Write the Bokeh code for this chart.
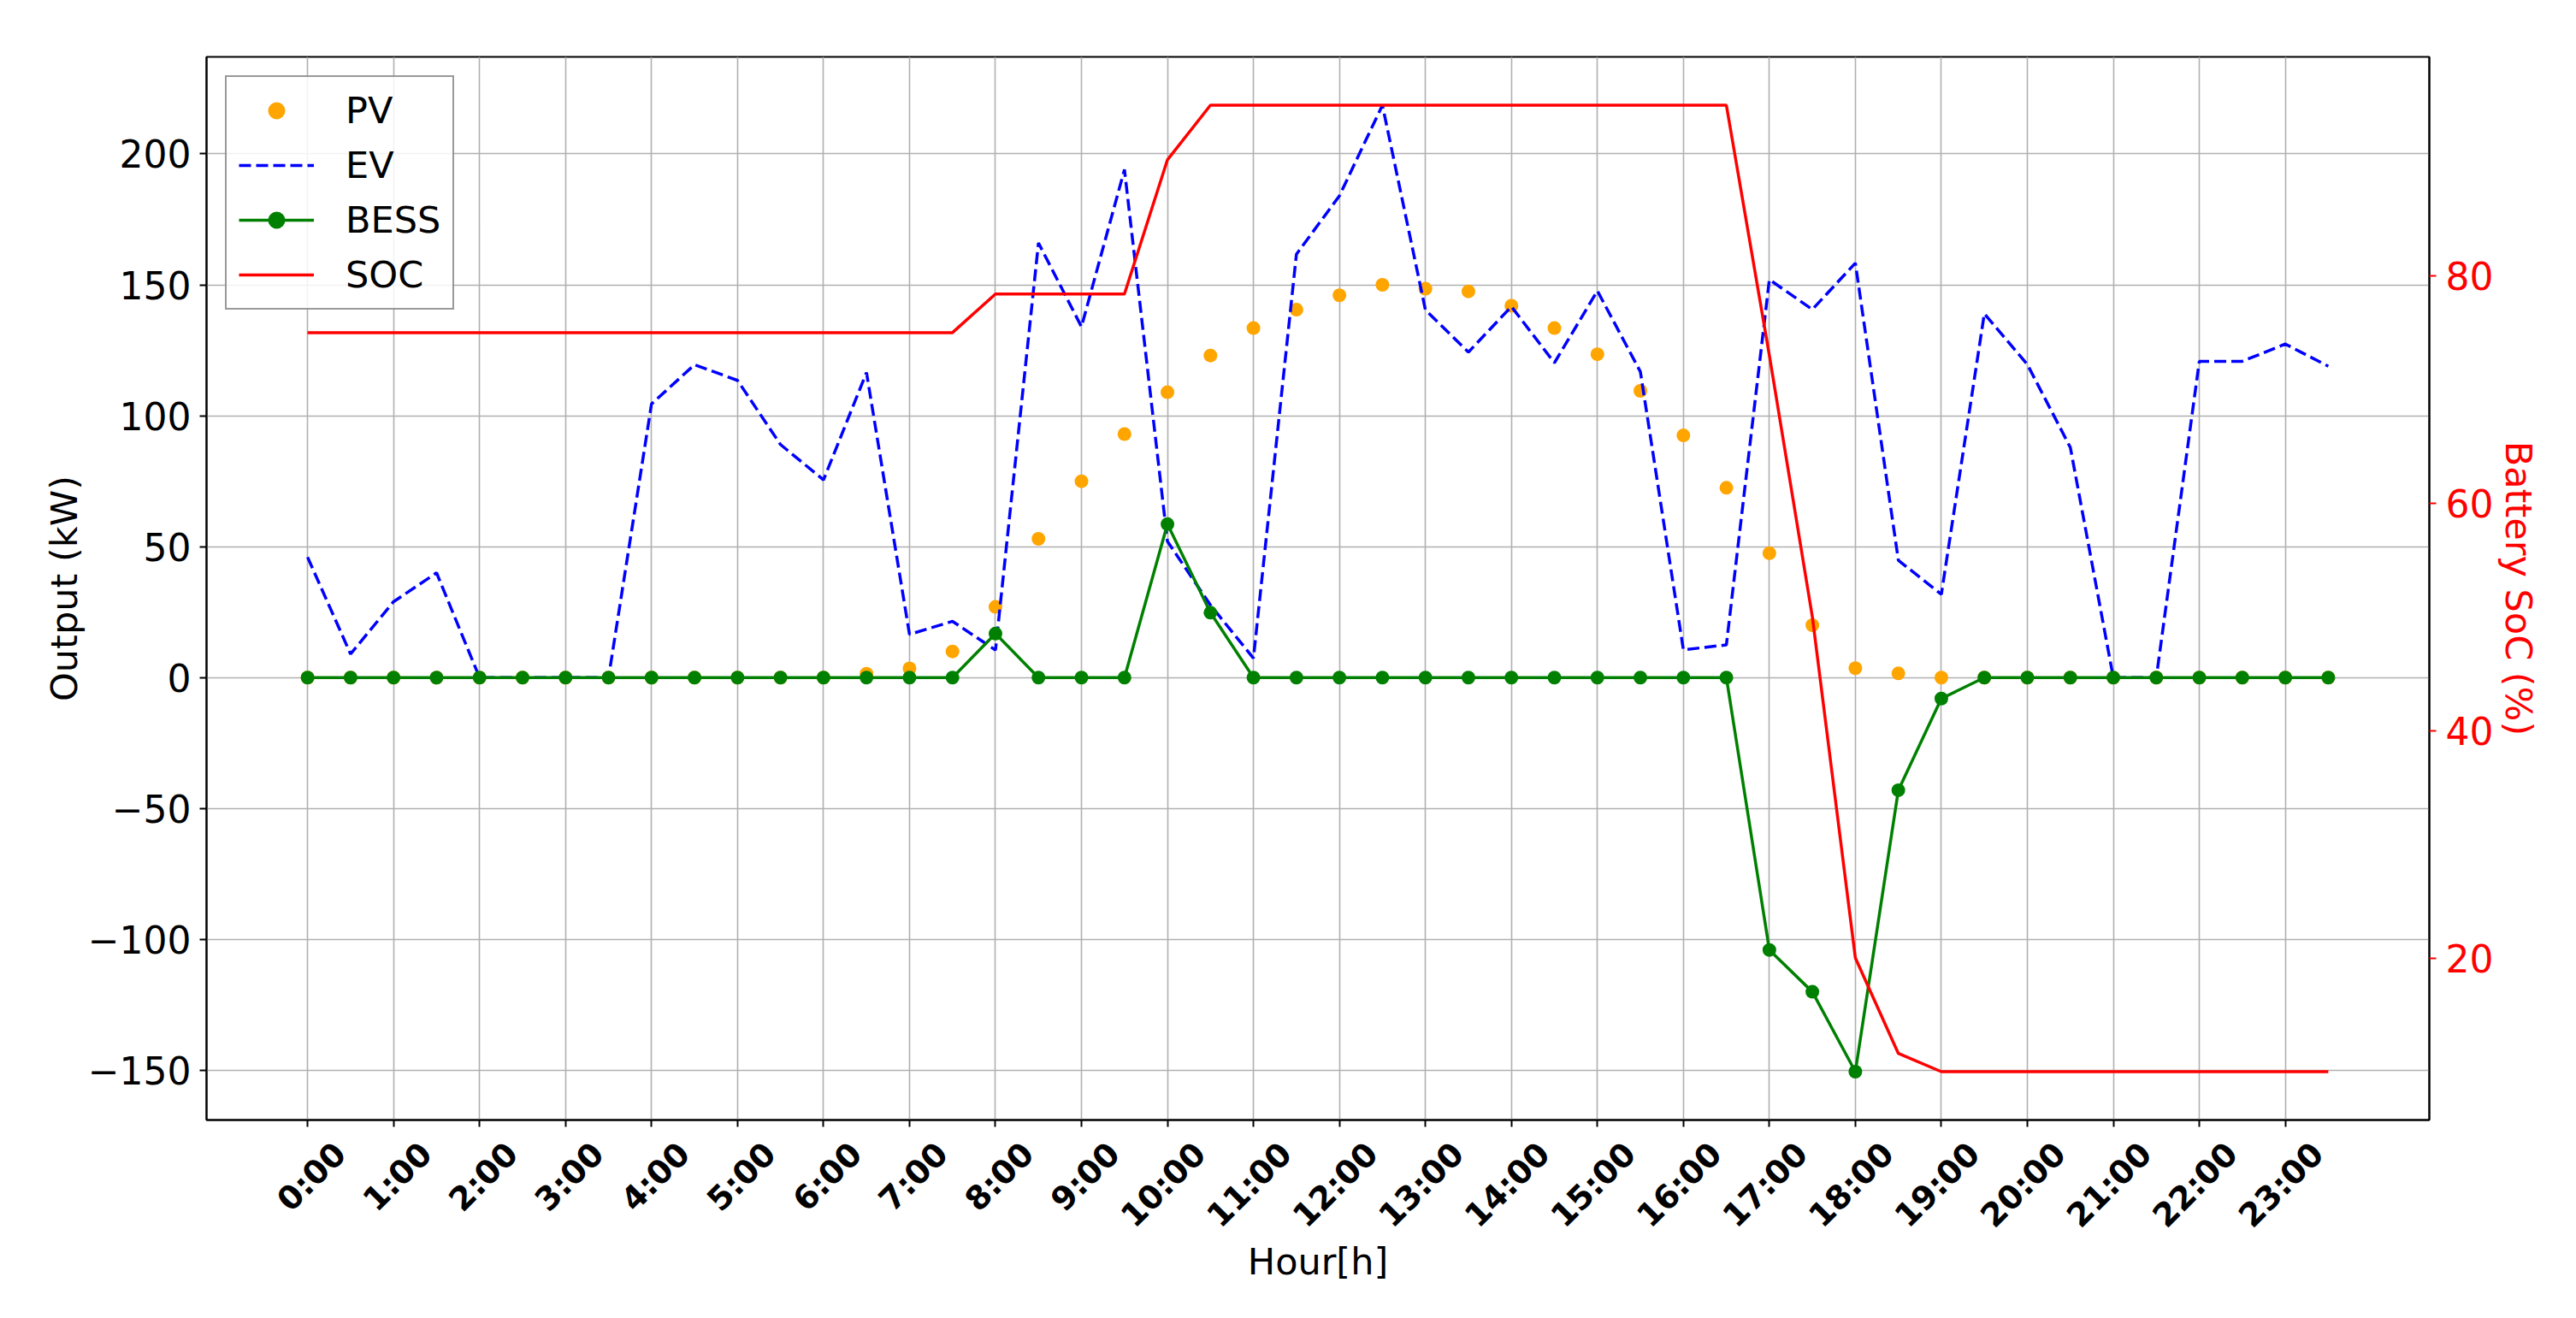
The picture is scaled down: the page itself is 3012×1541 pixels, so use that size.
import math
from bokeh.plotting import figure
from bokeh.models import (Range1d, LinearAxis, FixedTicker, Legend, LegendItem)
from bokeh.embed import file_html
from bokeh.resources import INLINE

# ---------------- data ----------------
times = ["0:00", "0:30", "1:00", "1:30", "2:00", "2:30", "3:00", "3:30",
         "4:00", "4:30", "5:00", "5:30", "6:00", "6:30", "7:00", "7:30",
         "8:00", "8:30", "9:00", "9:30", "10:00", "10:30", "11:00", "11:30",
         "12:00", "12:30", "13:00", "13:30", "14:00", "14:30", "15:00", "15:30",
         "16:00", "16:30", "17:00", "17:30", "18:00", "18:30", "19:00", "19:30",
         "20:00", "20:30", "21:00", "21:30", "22:00", "22:30", "23:00", "23:30"]

pv = [0, 0, 0, 0, 0, 0, 0, 0, 0, 0, 0, 0, 0, 1.5, 3.5, 10,
      27, 53, 75, 93, 109, 123, 133.5, 140.5, 146, 150, 148.5, 147.5, 142, 133.5, 123.5, 109.5,
      92.5, 72.5, 47.5, 20, 3.6, 1.6, 0, 0, 0, 0, 0, 0, 0, 0, 0, 0]

ev = [46, 9, 29, 40, 0, 0, 0, 0, 104.5, 119.5, 113.5, 89, 75.5, 116.5, 16.5, 21.5,
      10.5, 166, 134, 194, 52, 27.7, 7.4, 161.7, 184, 218.6, 140.4, 124.3, 141.7, 120.2, 147.7, 116.8,
      10.6, 12.5, 152, 140.6, 158.3, 44.8, 31.8, 139, 119.6, 87.9, 0, 0, 120.8, 120.8, 127.4, 118.9]

bess = [0, 0, 0, 0, 0, 0, 0, 0, 0, 0, 0, 0, 0, 0, 0, 0,
        16.8, 0, 0, 0, 58.6, 24.8, 0, 0, 0, 0, 0, 0, 0, 0, 0, 0,
        0, 0, -104, -120, -150.5, -43, -8, 0, 0, 0, 0, 0, 0, 0, 0, 0]

soc = [75, 75, 75, 75, 75, 75, 75, 75, 75, 75, 75, 75, 75, 75, 75, 75,
       78.4, 78.4, 78.4, 78.4, 90.2, 95, 95, 95, 95, 95, 95, 95, 95, 95, 95, 95,
       95, 95, 73, 50, 20, 11.6, 10, 10, 10, 10, 10, 10, 10, 10, 10, 10]

hour_labels = ["0:00", "1:00", "2:00", "3:00", "4:00", "5:00", "6:00", "7:00",
               "8:00", "9:00", "10:00", "11:00", "12:00", "13:00", "14:00", "15:00",
               "16:00", "17:00", "18:00", "19:00", "20:00", "21:00", "22:00", "23:00"]
y_ticks = [-150, -100, -50, 0, 50, 100, 150, 200]
soc_ticks = [20, 40, 60, 80]


def to_hours(s):
    h, m = s.split(":")
    return int(h) + int(m) / 60.0


x = [to_hours(t) for t in times]
hour_ticks = [to_hours(t) for t in hour_labels]


def padded(vals, frac=0.05):
    lo, hi = min(vals), max(vals)
    d = (hi - lo) * frac
    return lo - d, hi + d


x_lo, x_hi = padded(x)
y_lo, y_hi = padded(pv + ev + bess)
s_lo, s_hi = padded(soc)

FONT = "DejaVu Sans"

p = figure(width=2996, height=1525, output_backend="svg", toolbar_location=None,
           x_range=Range1d(x_lo, x_hi), y_range=Range1d(y_lo, y_hi),
           min_border_left=241, min_border_right=156, min_border_top=66, min_border_bottom=216,
           background_fill_color="white", border_fill_color="white")

# rotated labels are centred on their tick (matplotlib style): draw them on a range
# shifted by a few pixels, and draw the true tick marks as that axis's minor ticks
frame_w = 2996 - 241 - 156
shift = 38.0 * (x_hi - x_lo) / frame_w
p.extra_x_ranges = {"lab": Range1d(x_lo - shift, x_hi - shift)}
p.extra_y_ranges = {"soc": Range1d(s_lo, s_hi)}

p.outline_line_color = "black"
p.outline_line_width = 2
p.outline_line_alpha = 1.0

# grid
p.xgrid.ticker = FixedTicker(ticks=hour_ticks)
p.ygrid.ticker = FixedTicker(ticks=y_ticks)
for g in (p.xgrid, p.ygrid):
    g.grid_line_color = "#b0b0b0"
    g.grid_line_width = 1.6

# left axis
ya = p.yaxis[0]
ya.ticker = FixedTicker(ticks=y_ticks)
ya.major_label_overrides = {t: str(t).replace("-", "\u2212") for t in y_ticks}
ya.major_label_text_font = FONT
ya.major_label_text_font_size = "44px"
ya.major_label_text_color = "black"
ya.major_tick_out = 8
ya.major_tick_in = 0
ya.minor_tick_out = 0
ya.minor_tick_in = 0
ya.major_tick_line_width = 2
ya.major_label_standoff = 10
ya.axis_line_width = 2
ya.axis_label = "Output (kW)"
ya.axis_label_text_color = "black"
ya.axis_label_text_font = FONT
ya.axis_label_text_font_size = "43px"
ya.axis_label_text_font_style = "normal"
ya.axis_label_standoff = 0

# bottom axis
xa = p.xaxis[0]
xa.x_range_name = "lab"
xa.ticker = FixedTicker(ticks=hour_ticks, minor_ticks=[h - shift for h in hour_ticks])
xa.major_label_overrides = {h: s for h, s in zip(hour_ticks, hour_labels)}
xa.major_label_orientation = math.pi / 4
xa.major_label_text_font = FONT
xa.major_label_text_font_style = "bold"
xa.major_label_text_font_size = "38px"
xa.major_label_text_color = "black"
xa.major_label_standoff = 25
xa.major_tick_out = 0
xa.major_tick_in = 0
xa.minor_tick_out = 8
xa.minor_tick_in = 0
xa.minor_tick_line_width = 2
xa.minor_tick_line_color = "black"
xa.axis_line_width = 2
xa.axis_label = "Hour[h]"
xa.axis_label_text_color = "black"
xa.axis_label_text_font = FONT
xa.axis_label_text_font_size = "43px"
xa.axis_label_text_font_style = "normal"
xa.axis_label_standoff = -12

# right axis
ra = LinearAxis(y_range_name="soc", ticker=FixedTicker(ticks=soc_ticks))
ra.major_label_text_font = FONT
ra.major_label_text_font_size = "44px"
ra.major_label_text_color = "red"
ra.major_tick_line_color = "red"
ra.major_tick_line_width = 2
ra.major_tick_out = 8
ra.major_tick_in = 0
ra.minor_tick_out = 0
ra.minor_tick_in = 0
ra.major_label_standoff = 11
ra.axis_line_color = "black"
ra.axis_line_width = 2
ra.axis_label = "Battery SoC (%)"
ra.axis_label_text_color = "red"
ra.axis_label_text_font = FONT
ra.axis_label_text_font_size = "43px"
ra.axis_label_text_font_style = "normal"
ra.axis_label_standoff = 2
p.add_layout(ra, "right")

LW = 3.5
r_pv = p.scatter(x, pv, size=16, color="orange", line_color=None)
r_ev = p.line(x, ev, line_color="blue", line_width=LW, line_dash="14 6")
r_bl = p.line(x, bess, line_color="green", line_width=LW)
r_bs = p.scatter(x, bess, size=16, color="green", line_color=None)
r_soc = p.line(x, soc, line_color="red", line_width=LW, y_range_name="soc")

legend = Legend(items=[LegendItem(label="PV", renderers=[r_pv]),
                       LegendItem(label="EV", renderers=[r_ev]),
                       LegendItem(label="BESS", renderers=[r_bl, r_bs]),
                       LegendItem(label="SOC", renderers=[r_soc])],
                location="top_left", margin=22, padding=14, spacing=14,
                glyph_width=88, glyph_height=50, label_height=50, label_standoff=37,
                label_text_font=FONT, label_text_font_size="43px", label_text_color="black",
                border_line_color="#333333", border_line_width=2,
                background_fill_color="white", background_fill_alpha=0.85)
p.add_layout(legend, "center")

open("out.html", "w").write(file_html(p, INLINE))
